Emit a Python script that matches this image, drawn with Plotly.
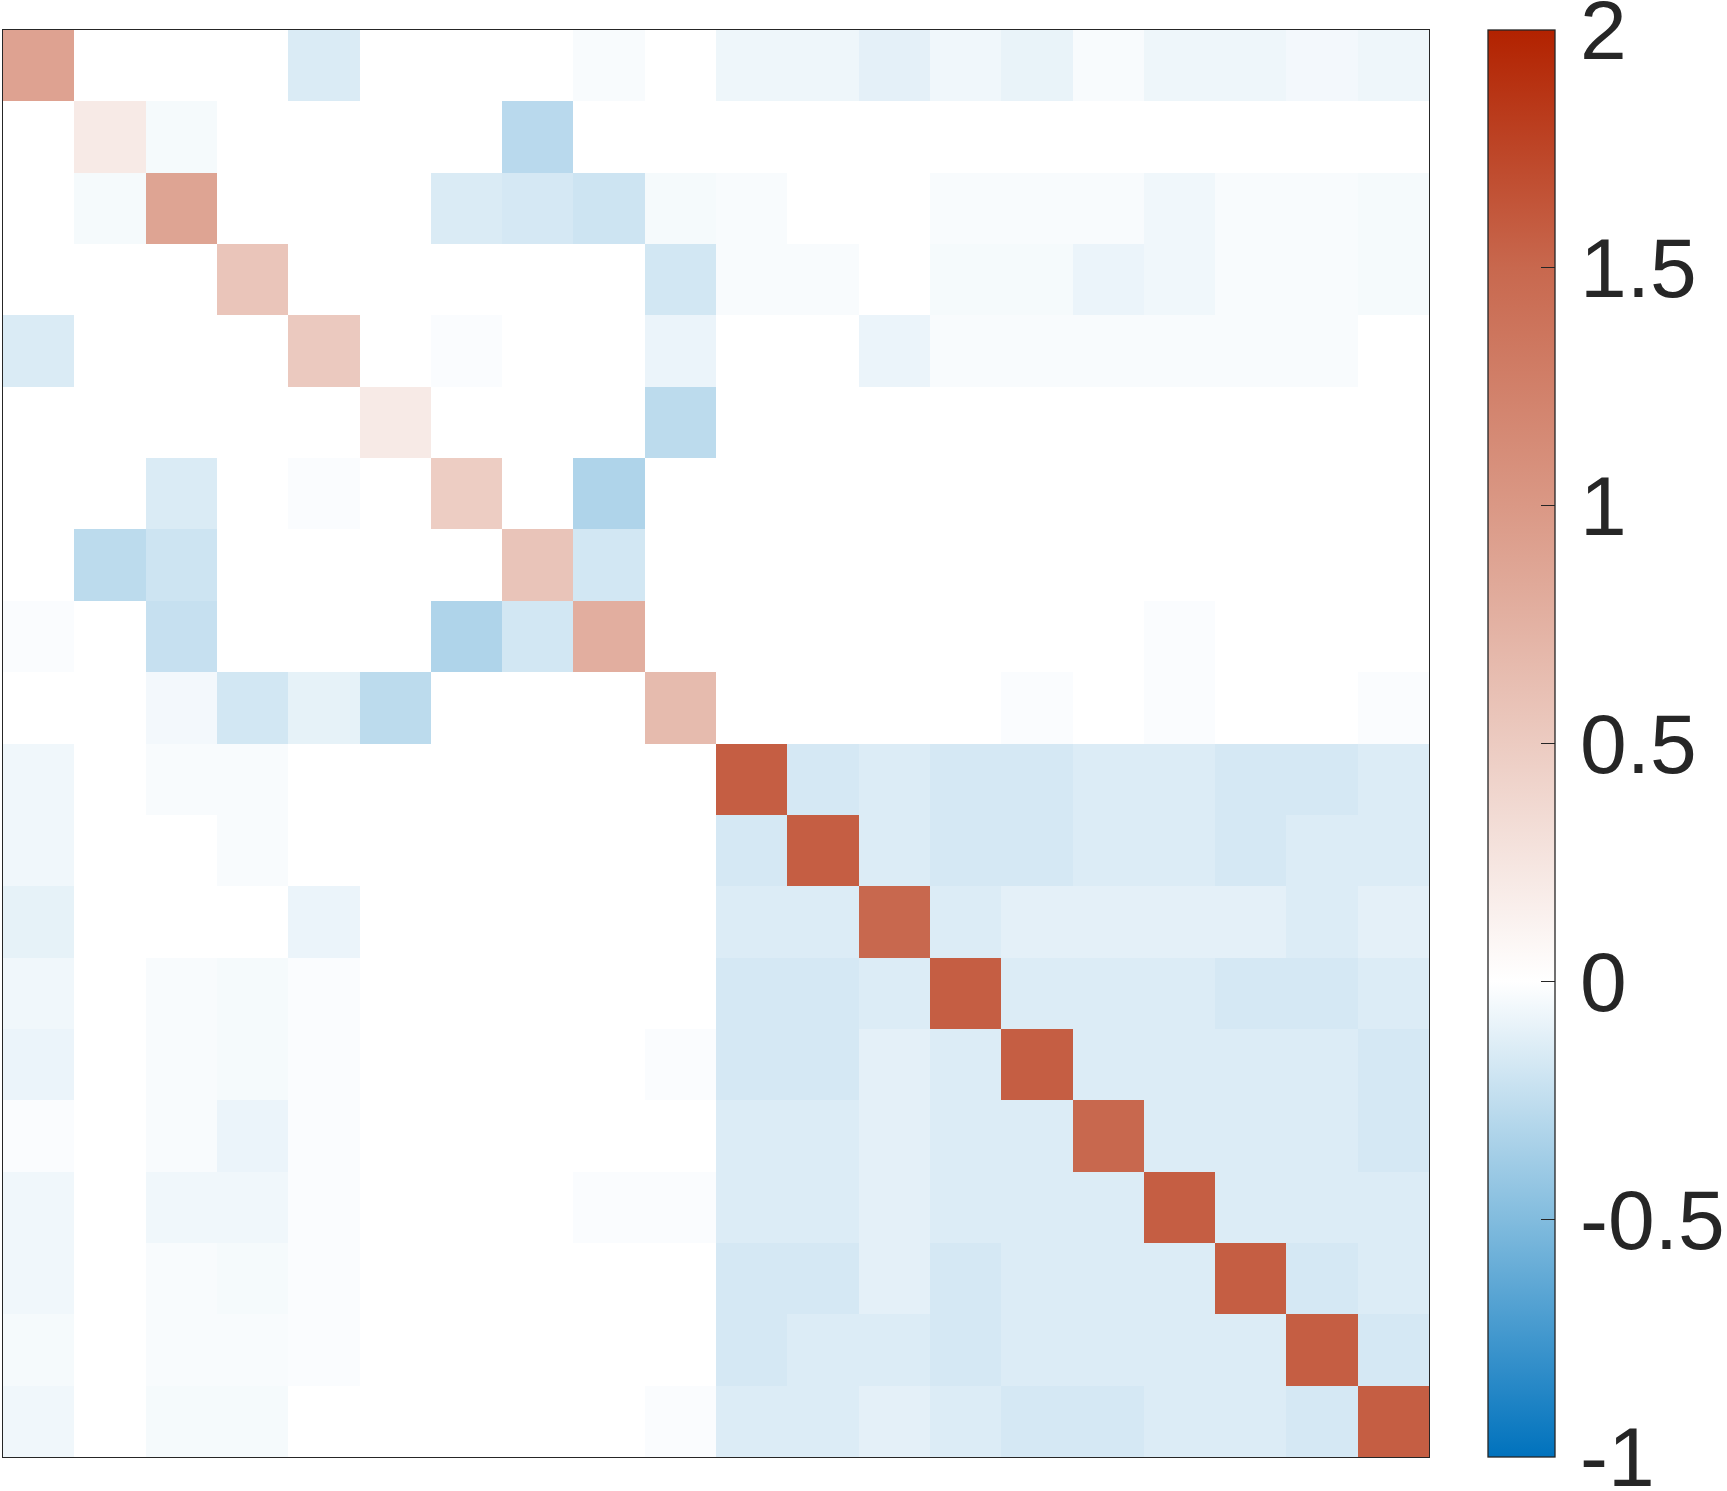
import plotly.graph_objects as go

# 20x20 matrix, row by row (row 0 at the top)
row_00 = [0.9, 0, 0, 0, -0.15, 0, 0, 0, -0.03, 0, -0.07, -0.07, -0.11, -0.06, -0.09, -0.03, -0.07, -0.07, -0.05, -0.07]
row_01 = [0, 0.2, -0.04, 0, 0, 0, 0, -0.28, 0, 0, 0, 0, 0, 0, 0, 0, 0, 0, 0, 0]
row_02 = [0, -0.04, 0.88, 0, 0, 0, -0.15, -0.17, -0.2, -0.04, -0.03, 0, 0, -0.03, -0.03, -0.03, -0.06, -0.03, -0.03, -0.04]
row_03 = [0, 0, 0, 0.56, 0, 0, 0, 0, 0, -0.18, -0.03, -0.03, 0, -0.04, -0.04, -0.08, -0.06, -0.03, -0.03, -0.04]
row_04 = [-0.15, 0, 0, 0, 0.52, 0, -0.02, 0, 0, -0.08, 0, 0, -0.08, -0.03, -0.03, -0.03, -0.03, -0.03, -0.03, 0]
row_05 = [0, 0, 0, 0, 0, 0.2, 0, 0, 0, -0.27, 0, 0, 0, 0, 0, 0, 0, 0, 0, 0]
row_06 = [0, 0, -0.15, 0, -0.02, 0, 0.48, 0, -0.32, 0, 0, 0, 0, 0, 0, 0, 0, 0, 0, 0]
row_07 = [0, -0.27, -0.2, 0, 0, 0, 0, 0.57, -0.18, 0, 0, 0, 0, 0, 0, 0, 0, 0, 0, 0]
row_08 = [-0.02, 0, -0.23, 0, 0, 0, -0.32, -0.18, 0.78, 0, 0, 0, 0, 0, 0, 0, -0.02, 0, 0, 0]
row_09 = [0, 0, -0.05, -0.18, -0.1, -0.27, 0, 0, 0, 0.66, 0, 0, 0, 0, -0.02, 0, -0.02, 0, 0, -0.02]
row_10 = [-0.06, 0, -0.03, -0.03, 0, 0, 0, 0, 0, 0, 1.57, -0.17, -0.14, -0.17, -0.17, -0.14, -0.14, -0.17, -0.17, -0.14]
row_11 = [-0.06, 0, 0, -0.03, 0, 0, 0, 0, 0, 0, -0.17, 1.57, -0.14, -0.17, -0.17, -0.14, -0.14, -0.17, -0.14, -0.14]
row_12 = [-0.1, 0, 0, 0, -0.08, 0, 0, 0, 0, 0, -0.14, -0.14, 1.5, -0.14, -0.11, -0.11, -0.11, -0.11, -0.14, -0.11]
row_13 = [-0.06, 0, -0.03, -0.04, -0.02, 0, 0, 0, 0, 0, -0.17, -0.17, -0.14, 1.57, -0.14, -0.14, -0.14, -0.17, -0.17, -0.14]
row_14 = [-0.08, 0, -0.03, -0.04, -0.02, 0, 0, 0, 0, -0.02, -0.17, -0.17, -0.11, -0.14, 1.57, -0.14, -0.14, -0.14, -0.14, -0.17]
row_15 = [-0.02, 0, -0.03, -0.08, -0.02, 0, 0, 0, 0, 0, -0.14, -0.14, -0.11, -0.14, -0.14, 1.5, -0.14, -0.14, -0.14, -0.17]
row_16 = [-0.06, 0, -0.06, -0.06, -0.02, 0, 0, 0, -0.02, -0.02, -0.14, -0.14, -0.11, -0.14, -0.14, -0.14, 1.57, -0.14, -0.14, -0.14]
row_17 = [-0.06, 0, -0.03, -0.04, -0.02, 0, 0, 0, 0, 0, -0.17, -0.17, -0.11, -0.17, -0.14, -0.14, -0.14, 1.57, -0.17, -0.14]
row_18 = [-0.04, 0, -0.03, -0.03, -0.02, 0, 0, 0, 0, 0, -0.17, -0.14, -0.14, -0.17, -0.14, -0.14, -0.14, -0.14, 1.57, -0.17]
row_19 = [-0.06, 0, -0.04, -0.04, 0, 0, 0, 0, 0, -0.02, -0.14, -0.14, -0.11, -0.14, -0.17, -0.17, -0.14, -0.14, -0.17, 1.57]

z = [row_00, row_01, row_02, row_03, row_04, row_05, row_06, row_07, row_08, row_09,
     row_10, row_11, row_12, row_13, row_14, row_15, row_16, row_17, row_18, row_19]

cbar_ticks = [-1, -0.5, 0, 0.5, 1, 1.5, 2]
cbar_labels = ['-1', '-0.5', '0', '0.5', '1', '1.5', '2']

#blue - white - red, white at zero
cscale = [[0.0, 'rgb(0,114,189)'],
          [1/6, 'rgb(130,188,222)'],
          [1/3, 'rgb(255,255,255)'],
          [0.5, 'rgb(236,203,193)'],
          [2/3, 'rgb(218,152,133)'],
          [5/6, 'rgb(200,104,78)'],
          [1.0, 'rgb(178,34,0)']]

fig = go.Figure(go.Heatmap(
    z=z, zmin=-1, zmax=2, colorscale=cscale,
    colorbar=dict(x=1.0414, xanchor='left', xpad=0, ypad=0, y=0.5, len=1,
                  thickness=67, outlinewidth=1.3, outlinecolor='rgb(38,38,38)',
                  ticks='inside', ticklen=14, tickwidth=1.3, tickcolor='rgb(38,38,38)',
                  tickvals=cbar_ticks, ticktext=['\u200a' + t for t in cbar_labels],
                  ticklabeloverflow='allow',
                  tickfont=dict(size=84, color='rgb(38,38,38)', family='Liberation Sans, Arial'))))

fig.update_xaxes(range=[-0.5, 19.5], showticklabels=False, ticks='', showgrid=False, zeroline=False,
                 showline=True, mirror=True, linecolor='rgb(38,38,38)', linewidth=1.3)
fig.update_yaxes(range=[19.5, -0.5], showticklabels=False, ticks='', showgrid=False, zeroline=False,
                 showline=True, mirror=True, linecolor='rgb(38,38,38)', linewidth=1.3)
fig.update_layout(width=1727, height=1491, margin=dict(l=3, r=298, t=30, b=34, autoexpand=False),
                  plot_bgcolor='white', paper_bgcolor='white')
fig.write_html("out.html", config={'displayModeBar': False},
               post_script="document.body.style.margin='0';")
